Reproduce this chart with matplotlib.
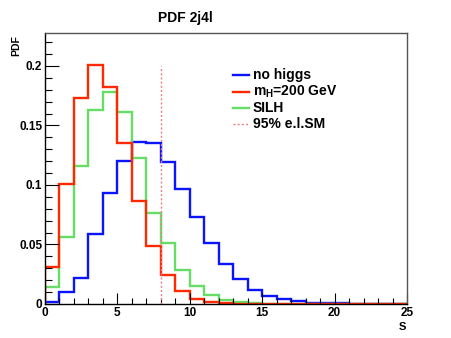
import matplotlib
matplotlib.use("Agg")
import matplotlib.pyplot as plt
import numpy as np
from matplotlib.ticker import MultipleLocator

plt.rcParams['font.family'] = ['Liberation Sans', 'DejaVu Sans']
plt.rcParams['font.weight'] = 'bold'
plt.rcParams['mathtext.fontset'] = 'custom'
plt.rcParams['mathtext.rm'] = 'Liberation Sans:bold'
plt.rcParams['mathtext.it'] = 'Liberation Sans:bold'
plt.rcParams['mathtext.default'] = 'rm'

edges = np.arange(0, 26, 1)
no_higgs = [0.002, 0.0098, 0.0216, 0.059, 0.093, 0.1205, 0.1365, 0.135, 0.1195,
            0.097, 0.073, 0.051, 0.0336, 0.0207, 0.0118, 0.007, 0.0038, 0.0022,
            0.0012, 0.0008, 0.0005, 0.0003, 0.0002, 0.0001, 0.0001]
mh200 = [0.031, 0.101, 0.173, 0.2006, 0.182, 0.135, 0.0866, 0.0485, 0.0245,
         0.0112, 0.0045, 0.002, 0.0008, 0.0004, 0.0002, 0.0001, 0.0001, 0.0,
         0.0, 0.0, 0.0, 0.0, 0.0, 0.0, 0.0]
silh = [0.0146, 0.0566, 0.116, 0.163, 0.178, 0.161, 0.123, 0.0768, 0.0515,
        0.0288, 0.0151, 0.0073, 0.003, 0.0014, 0.0007, 0.0004, 0.0002, 0.0001,
        0.0001, 0.0, 0.0, 0.0, 0.0, 0.0, 0.0]
cut_value = 8.0
cut_height = 0.2
labels = ['no higgs', 'm$_{H}$=200 GeV', 'SILH', '95% e.l.SM']

c_blue = '#0a14ff'
c_red = '#ff2a00'
c_green = '#66dd66'
c_cut = '#e8808c'
lw = 1.7

W, H = 452, 338
def px(x, y):
    return (x / W, 1 - y / H)

fig = plt.figure(figsize=(W / 100, H / 100), dpi=100)
ax = fig.add_axes([45/W, 1 - 304/H, (407-45)/W, (304-33)/H])

ax.stairs(no_higgs, edges, color=c_blue, lw=lw)
ax.stairs(silh, edges, color=c_green, lw=lw)
ax.stairs(mh200, edges, color=c_red, lw=lw)
ax.vlines(cut_value, 0, cut_height, color=c_cut, lw=1.0, linestyles=(0, (1.5, 1.5)))

ax.set_xlim(0, 25)
ax.set_ylim(0, 0.2277)
ax.xaxis.set_minor_locator(MultipleLocator(1))
ax.yaxis.set_minor_locator(MultipleLocator(0.01))
ax.set_xticks([0, 5, 10, 15, 20, 25], ['0', '5', '10', '15', '20', '25'])
ax.set_yticks([0, 0.05, 0.1, 0.15, 0.2], ['0', '0.05', '0.1', '0.15', '0.2'])
ax.tick_params(axis='x', which='major', direction='in', length=8, width=0.8,
               labelsize=8.5, pad=2, top=False)
ax.tick_params(axis='x', which='minor', direction='in', length=4, width=0.8, top=False)
ax.tick_params(axis='y', which='major', direction='in', length=10, width=0.8,
               labelsize=8.5, pad=2, right=False)
ax.tick_params(axis='y', which='minor', direction='in', length=5, width=0.8, right=False)
for lab in ax.get_xticklabels() + ax.get_yticklabels():
    lab.set_fontweight('bold')
for s in ax.spines.values():
    s.set_color('#555555')
    s.set_linewidth(1.0)
ax.spines['bottom'].set_color('black')
ax.spines['left'].set_color('black')

fig.text(*px(185, 18), 'PDF 2j4l', ha='center', va='center',
         fontsize=10, fontweight='bold')
fig.text(*px(16, 35), 'PDF', rotation=90, ha='center', va='top',
         fontsize=7.5, fontweight='bold')
fig.text(*px(406, 327), 'S', ha='right', va='center',
         fontsize=8, fontweight='bold')

# legend drawn by hand
colors = [c_blue, c_red, c_green, c_cut]
styles = ['-', '-', '-', (0, (1.5, 1.5))]
widths = [lw, lw, lw, 1.0]
rows = [75, 91.5, 108, 124.5]
for lab, col, st, w, yy in zip(labels, colors, styles, widths, rows):
    x0, y0 = px(233, yy)
    x1, _ = px(249, yy)
    fig.add_artist(plt.Line2D([x0, x1], [y0, y0], color=col, lw=w, ls=st,
                              transform=fig.transFigure))
    fig.text(*px(253, yy), lab, ha='left', va='center', fontsize=10,
             fontweight='bold')

fig.savefig('out.png', dpi=100)
